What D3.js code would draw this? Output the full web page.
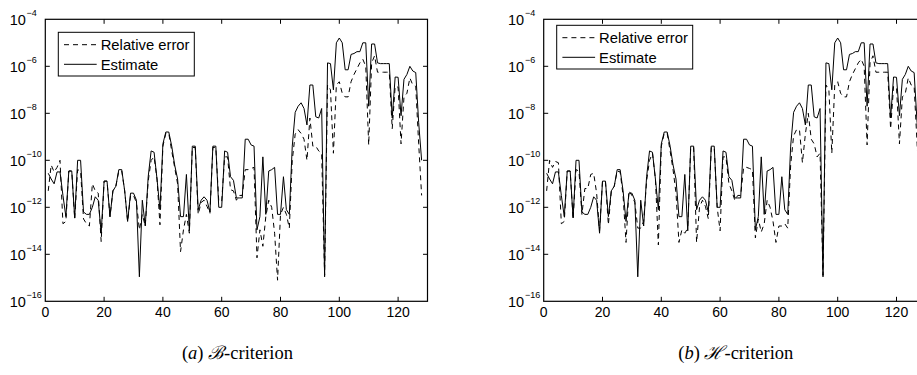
<!DOCTYPE html>
<html>
<head>
<meta charset="utf-8">
<script src="https://cdn.jsdelivr.net/npm/d3@7/dist/d3.min.js"></script>
<style>
  html, body { margin: 0; padding: 0; background: #fff; }
  svg { display: block; }
  .tick-label { font-family: "Liberation Sans", Arial, sans-serif; fill: #000; }
  .xlab { font-family: "Liberation Sans Narrow", "Liberation Sans", Arial, sans-serif; fill: #000; }
  .legend-text { font-family: "Liberation Sans", Arial, sans-serif; font-size: 14.8px; fill: #000; }
  .caption { font-family: "Liberation Serif", "DejaVu Serif", serif; font-size: 18.5px; fill: #000; }
</style>
</head>
<body>
<svg id="chart" width="917" height="375"></svg>
<script>
// ---------------- data ----------------
const sampleIndex = d3.range(1, 129); // 1..128

const xTickValues = [0, 20, 40, 60, 80, 100, 120];
const yTickExponents = [-4, -6, -8, -10, -12, -14, -16];

const seriesNames = ["Relative error", "Estimate"];
const captionLetters = ["a", "b"];
const captionCriteria = ["\u212C", "\u210B"];

// (a) B-criterion : estimate (solid)
const estimateB = [
  2.8e-11,1.6e-11,1e-11,3.2e-11,3.2e-11,3.2e-12,4.0e-13,3.5e-11,3.5e-11,3.5e-13,
  1e-10,1e-10,6.3e-13,5.0e-13,5.0e-13,1e-12,2.8e-12,2.0e-12,7.9e-14,1.3e-11,
  1.3e-11,4.0e-13,5.0e-12,7.9e-12,4.0e-11,4.0e-11,5.0e-12,2.5e-13,4.0e-12,4.0e-12,
  2.0e-12,1.1e-15,2.0e-12,1.6e-13,2.0e-11,2.5e-10,2.2e-10,1.6e-11,7.9e-13,5.0e-10,
  1.6e-9,1.6e-9,4.0e-10,6.3e-11,1.6e-11,4.0e-13,4.0e-13,2.5e-11,1e-13,4.0e-10,
  4.0e-10,7.9e-13,2.0e-12,2.8e-12,2.0e-12,6.3e-13,4.0e-10,4.0e-10,1e-12,1e-12,
  2.5e-10,2.2e-10,2.0e-11,1.4e-11,2.5e-12,2.5e-12,2.5e-12,7.9e-10,7.9e-10,4.5e-10,
  4.0e-10,1.1e-13,4.0e-13,1.4e-10,5.0e-13,3.5e-11,4.0e-11,5.0e-11,5.0e-13,5.0e-13,
  2.0e-11,7.9e-13,5.0e-13,4.0e-10,1.1e-8,2.0e-8,2.8e-8,1.6e-8,3.2e-9,1.6e-7,
  1.6e-7,7.1e-9,6.3e-9,1.6e-8,1.1e-15,1.4e-6,1.3e-6,1e-7,1e-5,1.6e-5,
  1e-5,7.1e-7,7.1e-7,3.2e-6,3.5e-6,4.2e-6,4.2e-6,1e-5,1e-5,2.0e-8,
  8.9e-6,8.9e-6,1.4e-6,1.3e-6,1.3e-6,1.3e-6,1.3e-6,6.3e-9,3.5e-7,3.4e-7,
  7.9e-9,2.8e-7,4.5e-7,1e-6,6.3e-7,5.4e-7,4.0e-9,1e-10
];

// (a) B-criterion : relative error (dashed)
const relErrorB = [
  5.0e-12,6.3e-11,3.2e-11,5.0e-11,1e-10,2.0e-13,2.5e-13,3.5e-11,3.5e-11,3.2e-13,
  4.0e-11,3.5e-11,3.2e-13,2.0e-13,1.6e-13,1e-11,5.0e-12,4.0e-12,3.5e-14,1.3e-11,
  1.3e-11,4.0e-13,5.0e-12,7.9e-12,3.5e-11,3.5e-11,5.0e-12,2.5e-13,3.2e-12,3.2e-12,
  1.6e-12,1.1e-13,5.0e-13,1.6e-13,1.3e-11,1e-10,1.4e-10,1.6e-11,1.8e-13,4.0e-10,
  1.4e-9,1.4e-9,2.5e-10,5.0e-11,1e-11,1.3e-14,1.1e-13,5.0e-13,7.9e-14,3.5e-10,
  3.5e-10,5.0e-13,1.6e-12,2.0e-12,1.1e-12,5.6e-13,3.5e-10,3.5e-10,1.8e-12,1.8e-12,
  1.4e-10,1.4e-10,5.6e-12,5.0e-12,2.0e-12,3.2e-12,3.2e-12,4.0e-11,4.0e-11,4.5e-11,
  5.0e-11,7.1e-15,1.1e-13,2.2e-14,4.0e-13,2.0e-12,1e-12,7.9e-14,7.9e-16,5.0e-13,
  1e-12,5.0e-13,1.3e-13,1e-10,1.3e-9,2.0e-9,1.4e-9,7.9e-10,1e-10,6.3e-9,
  4.0e-10,4.0e-10,2.5e-10,2.0e-10,1.3e-15,1.6e-7,1e-7,2.0e-10,1.6e-7,2.2e-7,
  7.1e-8,5.0e-8,5.0e-8,2.2e-7,4.5e-7,7.9e-7,1.4e-6,2.0e-6,1e-6,4.5e-10,
  1.4e-6,2.8e-6,5.6e-7,5.6e-7,5.6e-7,5.6e-7,5.6e-7,2.2e-9,1.4e-7,1.3e-7,
  5.0e-10,5.0e-8,7.1e-8,3.2e-7,1.6e-7,1.4e-7,5.0e-10,3.2e-12
];

// (b) H-criterion : estimate (solid)
const estimateH = [
  2.8e-11,1.6e-11,1e-11,3.2e-11,3.2e-11,3.2e-12,4.0e-13,3.5e-11,3.5e-11,3.5e-13,
  1e-10,1e-10,6.3e-13,5.0e-13,5.0e-13,1e-12,2.8e-12,2.0e-12,7.9e-14,1.3e-11,
  1.3e-11,4.0e-13,5.0e-12,7.9e-12,4.0e-11,4.0e-11,5.0e-12,2.5e-13,4.0e-12,4.0e-12,
  2.0e-12,1.1e-15,2.0e-12,1.6e-13,2.0e-11,2.5e-10,2.2e-10,1.6e-11,7.9e-13,5.0e-10,
  1.6e-9,1.6e-9,4.0e-10,6.3e-11,1.6e-11,4.0e-13,4.0e-13,2.5e-11,1e-13,4.0e-10,
  4.0e-10,7.9e-13,2.0e-12,2.8e-12,2.0e-12,6.3e-13,4.0e-10,4.0e-10,1e-12,1e-12,
  2.5e-10,2.2e-10,2.0e-11,1.4e-11,2.5e-12,2.5e-12,2.5e-12,7.9e-10,7.9e-10,4.5e-10,
  4.0e-10,1.1e-13,4.0e-13,1.4e-10,5.0e-13,3.5e-11,4.0e-11,5.0e-11,5.0e-13,5.0e-13,
  2.0e-11,7.9e-13,5.0e-13,4.0e-10,1.1e-8,2.0e-8,2.8e-8,1.6e-8,3.2e-9,1.6e-7,
  1.6e-7,7.1e-9,6.3e-9,1.6e-8,1.1e-15,1.4e-6,1.3e-6,1e-7,1e-5,1.6e-5,
  1e-5,7.1e-7,7.1e-7,3.2e-6,3.5e-6,4.2e-6,4.2e-6,1e-5,1e-5,2.0e-8,
  8.9e-6,8.9e-6,1.4e-6,1.3e-6,1.3e-6,1.3e-6,1.3e-6,6.3e-9,3.5e-7,3.4e-7,
  7.9e-9,2.8e-7,4.5e-7,1e-6,6.3e-7,5.4e-7,4.0e-9,1e-10
];

// (b) H-criterion : relative error (dashed)
const relErrorH = [
  5.0e-12,1e-10,5.0e-11,8.9e-11,7.9e-11,2.0e-13,2.5e-13,3.5e-11,3.5e-11,3.2e-13,
  4.0e-11,3.5e-11,5.0e-13,6.3e-12,6.3e-12,2.5e-11,2.8e-11,4.0e-12,1e-13,1.3e-11,
  1.3e-11,1.8e-13,5.0e-12,7.9e-12,3.5e-11,3.2e-11,3.2e-12,3.2e-14,5.0e-12,3.2e-12,
  1.6e-12,1.3e-13,1.3e-13,2.5e-13,1.3e-11,1e-10,2.0e-10,1.6e-11,2.5e-14,4.0e-10,
  1.4e-9,1.4e-9,2.5e-10,4.0e-11,4.0e-12,3.2e-14,1.1e-13,7.9e-14,1.3e-13,3.5e-10,
  3.5e-10,3.2e-14,1e-12,2.0e-12,1.1e-12,3.2e-13,3.5e-10,3.5e-10,1e-12,1e-13,
  1.4e-10,1.4e-10,1e-11,5.0e-12,2.0e-12,3.2e-12,3.2e-12,5.0e-11,5.0e-11,4.5e-11,
  4.0e-11,5.0e-14,3.2e-13,8.9e-14,2.0e-13,2.0e-12,1e-12,2.5e-13,3.2e-14,1.6e-13,
  1.6e-13,2.0e-13,1.3e-13,6.3e-11,1.1e-9,2.0e-9,2.0e-9,7.9e-11,1.3e-9,1e-8,
  7.9e-10,5.0e-10,1.4e-10,2.0e-10,1.3e-15,1.6e-7,1e-7,2.0e-10,1.6e-7,2.2e-7,
  7.1e-8,5.0e-8,5.0e-8,2.2e-7,4.5e-7,7.9e-7,1.4e-6,2.0e-6,1e-6,4.5e-10,
  1.4e-6,2.8e-6,5.6e-7,5.6e-7,5.6e-7,5.6e-7,5.6e-7,2.2e-9,1.4e-7,1.3e-7,
  5.0e-10,5.0e-8,7.1e-8,3.2e-7,1.6e-7,1.4e-7,5.0e-10,3.2e-12
];

// ---------------- layout ----------------
const svg = d3.select("#chart");
const panels = [
  { left: 45.3, legendTop: 32.3, rel: relErrorB, est: estimateB, letter: captionLetters[0], crit: captionCriteria[0] },
  { left: 543.7, legendTop: 25.3, rel: relErrorH, est: estimateH, letter: captionLetters[1], crit: captionCriteria[1] }
];
const plotW = 382.2, plotTop = 19.3, plotBottom = 301.3;

panels.forEach(p => {
  const x = d3.scaleLinear().domain([0, 130]).range([p.left, p.left + plotW]);
  const y = d3.scaleLog().domain([1e-16, 1e-4]).range([plotBottom, plotTop]);
  const g = svg.append("g");

  // ticks (inside, all four sides)
  const tl = 4.5;
  xTickValues.forEach(v => {
    if (v === 0) return;
    g.append("line").attr("x1", x(v)).attr("x2", x(v)).attr("y1", plotBottom).attr("y2", plotBottom - tl)
      .attr("stroke", "#000").attr("stroke-width", 1);
    g.append("line").attr("x1", x(v)).attr("x2", x(v)).attr("y1", plotTop).attr("y2", plotTop + tl)
      .attr("stroke", "#000").attr("stroke-width", 1);
  });
  yTickExponents.forEach(e => {
    const v = Math.pow(10, e);
    if (e === -4 || e === -16) return;
    g.append("line").attr("x1", p.left).attr("x2", p.left + tl).attr("y1", y(v)).attr("y2", y(v))
      .attr("stroke", "#000").attr("stroke-width", 1);
    g.append("line").attr("x1", p.left + plotW).attr("x2", p.left + plotW - tl).attr("y1", y(v)).attr("y2", y(v))
      .attr("stroke", "#000").attr("stroke-width", 1);
  });

  // lines
  const line = d3.line().x((d, i) => x(sampleIndex[i])).y(d => y(d));
  g.append("path").datum(p.rel).attr("d", line).attr("fill", "none")
    .attr("stroke", "#000").attr("stroke-width", 1).attr("stroke-dasharray", "5,4");
  g.append("path").datum(p.est).attr("d", line).attr("fill", "none")
    .attr("stroke", "#000").attr("stroke-width", 1);

  // box
  g.append("rect").attr("x", p.left).attr("y", plotTop).attr("width", plotW).attr("height", plotBottom - plotTop)
    .attr("fill", "none").attr("stroke", "#000").attr("stroke-width", 1.2);

  // y tick labels
  yTickExponents.forEach(e => {
    const v = Math.pow(10, e);
    g.append("text").attr("class", "tick-label")
      .attr("x", p.left - 19.5).attr("y", y(v) + 5.2).attr("text-anchor", "end")
      .style("font-size", "14.5px").text("10");
    g.append("text").attr("class", "tick-label")
      .attr("x", p.left - 18.8).attr("y", y(v) - 3.5)
      .style("font-size", "9px").text("\u2212" + Math.abs(e));
  });

  // x tick labels
  xTickValues.forEach(v => {
    g.append("text").attr("class", "xlab").attr("x", x(v)).attr("y", plotBottom + 16)
      .attr("text-anchor", "middle").style("font-size", "14px").text(v);
  });

  // legend
  const lx = p.left + 13, ly = p.legendTop, lw = 136, lh = 43.7;
  g.append("rect").attr("x", lx).attr("y", ly).attr("width", lw).attr("height", lh)
    .attr("fill", "#fff").attr("stroke", "#000").attr("stroke-width", 1);
  const rows = [ly + 12.4, ly + 32];
  g.append("line").attr("x1", lx + 5.7).attr("x2", lx + 38.4).attr("y1", rows[0]).attr("y2", rows[0])
    .attr("stroke", "#000").attr("stroke-width", 1).attr("stroke-dasharray", "5,4");
  g.append("line").attr("x1", lx + 5.7).attr("x2", lx + 38.4).attr("y1", rows[1]).attr("y2", rows[1])
    .attr("stroke", "#000").attr("stroke-width", 1);
  seriesNames.forEach((n, i) => {
    g.append("text").attr("class", "legend-text").attr("x", lx + 42.4).attr("y", rows[i] + 5.3).text(n);
  });

  // caption
  const cap = g.append("text").attr("class", "caption").attr("x", p.left + plotW / 2 + 1)
    .attr("y", 359).attr("text-anchor", "middle");
  cap.append("tspan").text("(");
  cap.append("tspan").style("font-style", "italic").text(p.letter);
  cap.append("tspan").text(") ");
  cap.append("tspan").style("font-style", "italic").text(p.crit);
  cap.append("tspan").text("-criterion");
});
</script>
</body>
</html>
